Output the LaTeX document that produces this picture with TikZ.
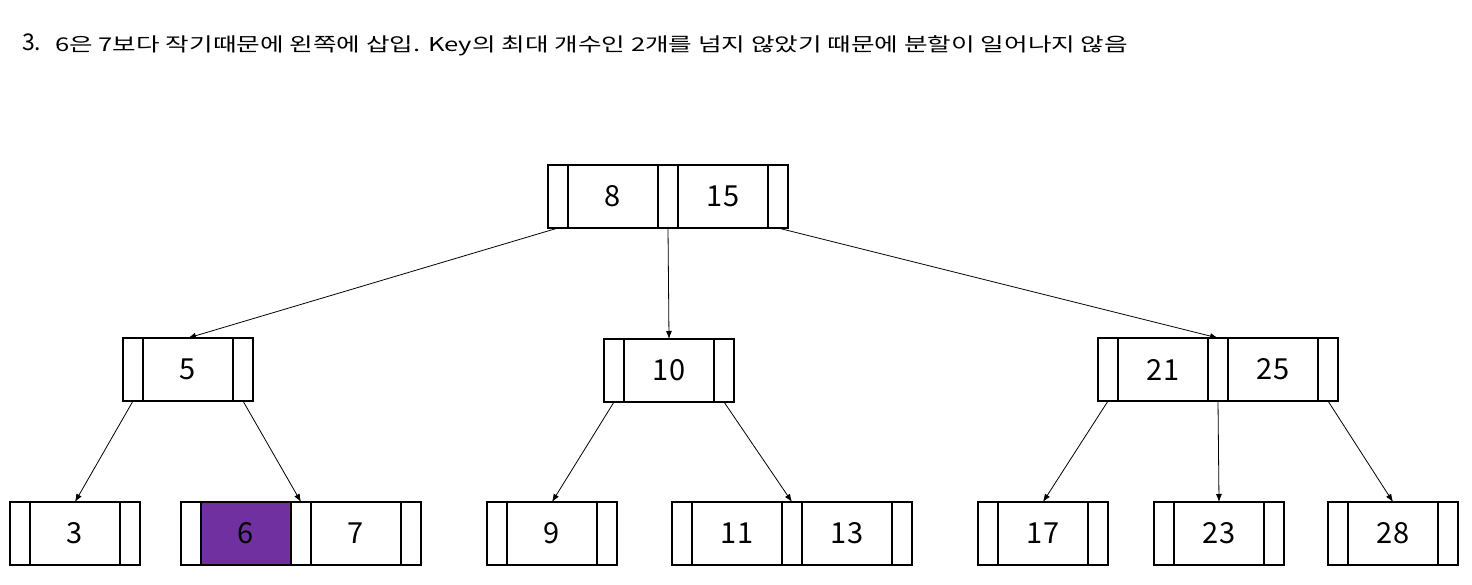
\documentclass[tikz,border=0pt]{standalone}
\usepackage{fontspec}
\setmainfont{Noto Sans CJK KR}
\usetikzlibrary{positioning,arrows.meta}

\tikzset{
  ptr/.style={rectangle, draw, line width=1.5pt, minimum width=20pt,
              minimum height=63pt, inner sep=0pt, outer sep=0pt},
  key/.style={ptr, minimum width=90pt, font=\fontsize{29}{29}\selectfont},
  link/.style={line width=0.8pt, -{Latex[length=8pt,width=6pt]}},
}

\begin{document}
\begin{tikzpicture}[x=1pt,y=-1pt]
    \definecolor{newkey}{RGB}{112,48,160}
    \useasboundingbox (0,0) rectangle (1472,585);

    % step caption
    \node[anchor=base west, inner sep=0pt, font=\fontsize{23}{23}\selectfont] (stepno) at (22,51) {3.};
    \node[anchor=base west, inner sep=0pt, font=\fontsize{19}{19}\selectfont] (caption) at (55,52)
        {\scalebox{1.35}[1]{6은 7보다 작기때문에 왼쪽에 삽입. Key의 최대 개수인 2개를 넘지 않았기 때문에 분할이 일어나지 않음}};

    % root
    \node[ptr, anchor=north west] (r-p0) at (548,165) {};
    \node[key, right=0pt of r-p0] (r-k1) {8};
    \node[ptr, right=0pt of r-k1] (r-p1) {};
    \node[key, right=0pt of r-p1] (r-k2) {15};
    \node[ptr, right=0pt of r-k2] (r-p2) {};

    % second level
    \node[ptr, anchor=north west] (a-p0) at (123,338) {};
    \node[key, right=0pt of a-p0] (a-k1) {5};
    \node[ptr, right=0pt of a-k1] (a-p1) {};

    \node[ptr, anchor=north west] (b-p0) at (604,339) {};
    \node[key, right=0pt of b-p0] (b-k1) {10};
    \node[ptr, right=0pt of b-k1] (b-p1) {};

    \node[ptr, anchor=north west] (c-p0) at (1098,338) {};
    \node[key, right=0pt of c-p0] (c-k1) {21};
    \node[ptr, right=0pt of c-k1] (c-p1) {};
    \node[key, right=0pt of c-p1] (c-k2) {25};
    \node[ptr, right=0pt of c-k2] (c-p2) {};

    % leaves
    \node[ptr, anchor=north west] (l1-p0) at (10,502) {};
    \node[key, right=0pt of l1-p0] (l1-k1) {3};
    \node[ptr, right=0pt of l1-k1] (l1-p1) {};

    \node[ptr, anchor=north west] (l2-p0) at (181,502) {};
    \node[key, fill=newkey, right=0pt of l2-p0] (l2-k1) {6};
    \node[ptr, right=0pt of l2-k1] (l2-p1) {};
    \node[key, right=0pt of l2-p1] (l2-k2) {7};
    \node[ptr, right=0pt of l2-k2] (l2-p2) {};

    \node[ptr, anchor=north west] (l3-p0) at (487,502) {};
    \node[key, right=0pt of l3-p0] (l3-k1) {9};
    \node[ptr, right=0pt of l3-k1] (l3-p1) {};

    \node[ptr, anchor=north west] (l4-p0) at (672,502) {};
    \node[key, right=0pt of l4-p0] (l4-k1) {11};
    \node[ptr, right=0pt of l4-k1] (l4-p1) {};
    \node[key, right=0pt of l4-p1] (l4-k2) {13};
    \node[ptr, right=0pt of l4-k2] (l4-p2) {};

    \node[ptr, anchor=north west] (l5-p0) at (978,502) {};
    \node[key, right=0pt of l5-p0] (l5-k1) {17};
    \node[ptr, right=0pt of l5-k1] (l5-p1) {};

    \node[ptr, anchor=north west] (l6-p0) at (1154,502) {};
    \node[key, right=0pt of l6-p0] (l6-k1) {23};
    \node[ptr, right=0pt of l6-k1] (l6-p1) {};

    \node[ptr, anchor=north west] (l7-p0) at (1328,502) {};
    \node[key, right=0pt of l7-p0] (l7-k1) {28};
    \node[ptr, right=0pt of l7-k1] (l7-p1) {};

    % child pointers
    \draw[link] (r-p0.south) -- (a-k1.north);
    \draw[link] (r-p1.south) -- (b-k1.north);
    \draw[link] (r-p2.south) -- (c-p1.north);
    \draw[link] (a-p0.south) -- (l1-k1.north);
    \draw[link] (a-p1.south) -- (l2-p1.north);
    \draw[link] (b-p0.south) -- (l3-k1.north);
    \draw[link] (b-p1.south) -- (l4-p1.north);
    \draw[link] (c-p0.south) -- (l5-k1.north);
    \draw[link] (c-p1.south) -- (l6-k1.north);
    \draw[link] (c-p2.south) -- (l7-k1.north);
\end{tikzpicture}
\end{document}
